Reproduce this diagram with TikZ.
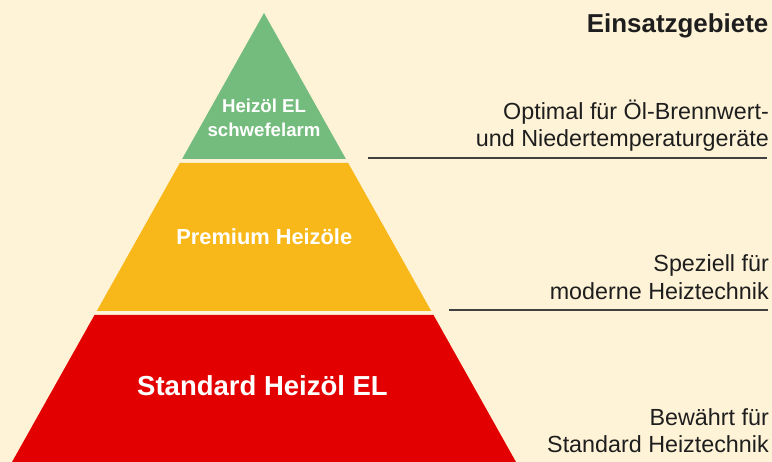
\documentclass[tikz,border=0pt]{standalone}
\usepackage{fontspec}
\setmainfont{Liberation Sans}
\definecolor{bgc}{HTML}{FEF3D7}
\definecolor{grn}{HTML}{74BC7D}
\definecolor{ylw}{HTML}{F8B819}
\definecolor{rd}{HTML}{E30000}
\definecolor{txt}{HTML}{1E1E1E}
\tikzset{
  layer/.style={draw=none},
  lbl/.style={inner sep=0pt, text=white, font=\bfseries},
  desc/.style={inner sep=0pt, anchor=base east, text=txt, font=\fontsize{23.4}{27}\selectfont},
  sep/.style={draw=txt!85, line width=1.4bp}
}
\begin{document}
\begin{tikzpicture}[x=1bp,y=-1bp]
\fill[bgc] (0,0) rectangle (772,462);
\useasboundingbox (0,0) rectangle (772,462);
% layers
\fill[grn] (264,13) -- (345.9,159) -- (182.1,159) -- cycle;
\fill[ylw] (179.8,163) -- (348.2,163) -- (431.2,311) -- (96.8,311) -- cycle;
\fill[rd] (94.5,315) -- (433.5,315) -- (516,462) -- (12,462) -- cycle;
% labels in pyramid
\node[lbl, anchor=base, font=\fontsize{18.7}{22}\selectfont\bfseries] (g1) at (264,113) {Heizöl EL};
\node[lbl, anchor=base, font=\fontsize{18.7}{22}\selectfont\bfseries] (g2) at (264,137) {schwefelarm};
\node[lbl, anchor=base, font=\fontsize{21.9}{26}\selectfont\bfseries] (y1) at (264.3,244.3) {Premium Heizöle};
\node[lbl, anchor=base, font=\fontsize{27.6}{32}\selectfont\bfseries] (r1) at (262.5,395) {Standard Heizöl EL};
% right column
\node[desc, font=\fontsize{26}{30}\selectfont\bfseries] (head) at (768.5,33) {Einsatzgebiete};
\node[desc] (o1) at (769,120) {Optimal für Öl-Brennwert-};
\node[desc] (o2) at (769,147) {und Niedertemperaturgeräte};
\node[desc] (s1) at (769,272) {Speziell für};
\node[desc] (s2) at (769,300) {moderne Heiztechnik};
\node[desc] (b1) at (769,425) {Bewährt für};
\node[desc] (b2) at (769,452) {Standard Heiztechnik};
% separator lines
\coordinate (l1a) at (368,158);
\coordinate (l1b) at (767,158);
\coordinate (l2a) at (449,310);
\coordinate (l2b) at (768,310);
\draw[sep] (l1a) -- (l1b);
\draw[sep] (l2a) -- (l2b);
\end{tikzpicture}
\end{document}
